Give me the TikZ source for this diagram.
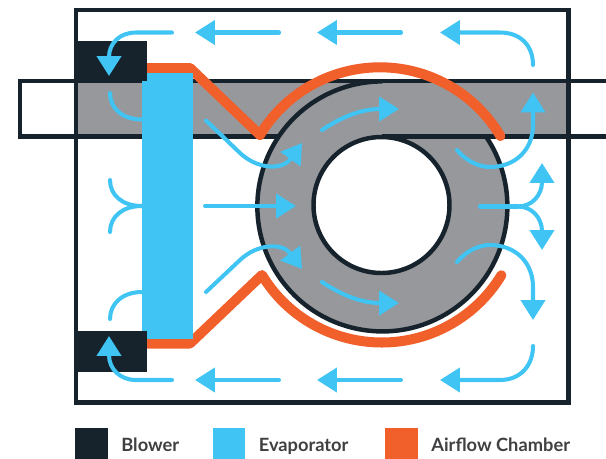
\documentclass[tikz,border=0pt]{standalone}
\usepackage{fontspec}
\setmainfont{Lato}
\usetikzlibrary{arrows.meta,calc,positioning}
\definecolor{darkslate}{HTML}{17232C}
\definecolor{airblue}{HTML}{3FC4F4}
\definecolor{chamber}{HTML}{F1602B}
\definecolor{ductgray}{HTML}{97989C}
\definecolor{keytext}{HTML}{404042}
\begin{document}
\begin{tikzpicture}[x=.02cm,y=.02cm,
wall/.style={draw=darkslate,line width=2.55pt},
orange/.style={draw=chamber,line width=5.7pt,line cap=round,line join=round},
flowline/.style={draw=airblue,line width=2.3pt,line cap=round},
flow/.style={flowline,-{Triangle[length=11.3pt,width=13.6pt]}},
keybox/.style={rectangle,minimum width=.66cm,minimum height=.66cm,inner sep=0pt},
keylabel/.style={anchor=base west,inner sep=0pt,text=keytext,font=\bfseries\fontsize{10.4}{12}\selectfont}]
\useasboundingbox (0,0) rectangle (606,-458);
% duct and torus
\fill[ductgray] (76,-81) rectangle (568.5,-136.5);
\coordinate (C) at (382.5,-206.5);
\fill[ductgray] (C) circle (125);
\draw[wall] (606,-81)--(20,-81)--(20,-136.5)--(279,-136.5);
\draw[wall] (381.5,-136.5)--(606,-136.5);
\draw[wall] (486,-136.5) arc[start angle=34,end angle=-270,radius=125];
\draw[wall,fill=white] (381.5,-205) circle (68);
% outer box
\draw[wall] (76,-10) rectangle (568.5,-402.5);
% airflow chamber
\draw[orange] (146,-68)--(190,-68)--(260,-135) arc[start angle=148.9,end angle=30.6,radius=140];
\draw[orange] (146,-343.5)--(190,-343.5)--(262,-275) arc[start angle=211.2,end angle=328.7,radius=140];
% evaporator and blowers
\fill[airblue] (142,-73) rectangle (193.3,-339);
\fill[darkslate] (73.5,-40.5) rectangle (146.5,-81);
\fill[darkslate] (73.5,-331) rectangle (146.5,-372);
% top row
\draw[flow] (172,-32.5)--(136,-32.5) .. controls (120,-32.5) and (109,-43) .. (109,-76);
\draw[flow] (279,-32.5)--(195,-32.5);
\draw[flow] (401,-32.5)--(317,-32.5);
\draw[flow] (533,-65) .. controls (533,-45) and (520,-32.5) .. (500,-32.5)--(440,-32.5);
% bottom row
\draw[flow] (172,-380)--(136,-380) .. controls (120,-380) and (109,-369) .. (109,-336);
\draw[flow] (279,-380)--(195,-380);
\draw[flow] (401,-380)--(317,-380);
\draw[flow] (533,-346) .. controls (533,-366) and (520,-380) .. (500,-380)--(440,-380);
% left of evaporator
\draw[flowline] (110,-93) .. controls (110,-108) and (122,-119.5) .. (142,-119.5);
\draw[flowline] (110,-180) .. controls (110,-195) and (122,-206) .. (142,-206);
\draw[flowline] (142,-206) .. controls (122,-206) and (110,-217) .. (110,-232);
\draw[flowline] (142,-292) .. controls (122,-292) and (110,-304) .. (110,-319);
% through the torus
\draw[flow] (206,-120.5)--(240,-153) .. controls (257,-169) and (282,-171) .. (302,-143);
\draw[flow] (205,-206)--(296,-206);
\draw[flow] (206,-292)--(240,-260) .. controls (257,-244) and (282,-242) .. (302,-269);
\draw[flow] (322,-130) .. controls (340,-118) and (360,-109) .. (399,-109);
\draw[flow] (322,-282) .. controls (340,-294) and (360,-303) .. (399,-303);
% right side
\draw[flow] (457,-150) .. controls (467,-162) and (480,-167) .. (490,-167) .. controls (515,-167) and (533,-150) .. (533,-125)--(533,-92.5);
\draw[flowline] (480,-206.5)--(518,-206.5);
\draw[flow] (518,-206.5) .. controls (532,-206.5) and (542,-195) .. (542,-163);
\draw[flow] (518,-206.5) .. controls (532,-206.5) and (542,-218) .. (542,-250);
\draw[flow] (457,-262) .. controls (467,-250) and (480,-245) .. (490,-245) .. controls (515,-245) and (533,-262) .. (533,-287)--(533,-320);
% legend
\node[keybox,fill=darkslate] (kblower) at (91.2,-444.5) {};
\node[keybox,fill=airblue] (kevap) at (229,-444.5) {};
\node[keybox,fill=chamber] (kcham) at (401.3,-444.5) {};
\node[keylabel] (lblower) at (121,-451.5) {Blower};
\node[keylabel] (levap) at (258.5,-451.5) {Evaporator};
\node[keylabel] (lcham) at (431,-451.5) {Airflow Chamber};
\end{tikzpicture}
\end{document}
